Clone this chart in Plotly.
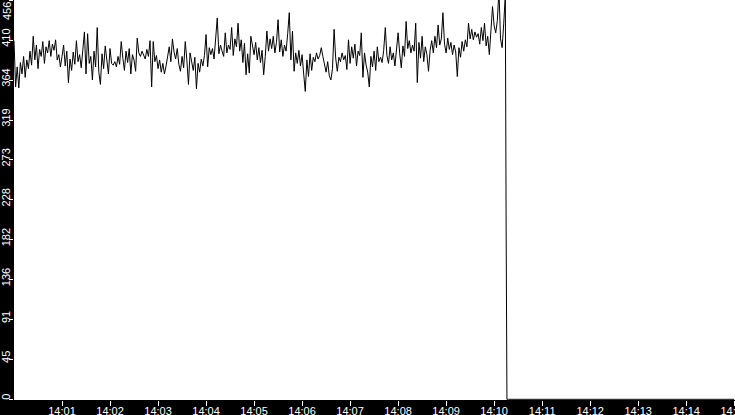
import pandas as pd
import plotly.graph_objects as go

load_values = [
    410, 357, 380, 356, 385, 372, 392, 368, 388, 378,
    398, 382, 415, 388, 405, 378, 400, 392, 409, 384,
    403, 396, 410, 392, 406, 399, 411, 388, 394, 380,
    392, 405, 381, 398, 362, 389, 376, 397, 383, 410,
    386, 394, 379, 401, 420, 372, 418, 384, 392, 365,
    398, 380, 425, 374, 360, 395, 378, 404, 386, 372,
    401, 384, 382, 386, 380, 392, 383, 409, 390, 376,
    398, 385, 401, 372, 394, 388, 375, 413, 396, 392,
    398, 394, 389, 400, 392, 410, 357, 409, 386, 393,
    378, 388, 374, 384, 372, 381, 390, 403, 386, 412,
    397, 389, 401, 383, 375, 392, 379, 409, 388, 360,
    396, 384, 376, 391, 355, 384, 374, 389, 381, 393,
    417, 380, 402, 394, 401, 389, 409, 436, 395, 405,
    398, 392, 419, 396, 405, 400, 425, 393, 412, 403,
    430, 398, 411, 385, 407, 371, 395, 373, 415, 402,
    394, 408, 388, 402, 385, 399, 371, 392, 421, 398,
    412, 401, 415, 396, 408, 434, 397, 411, 392, 405,
    398, 418, 442, 388, 421, 375, 396, 384, 399, 381,
    394, 372, 352, 388, 369, 395, 376, 391, 386, 396,
    389, 393, 402, 392, 383, 374, 386, 370, 365, 378,
    423, 390, 375, 391, 386, 396, 388, 393, 377, 411,
    384, 403, 390, 406, 381, 398, 393, 419, 368, 396,
    382, 374, 357, 392, 380, 398, 376, 403, 386, 391,
    385, 399, 425, 393, 384, 403, 388, 396, 381, 400,
    419, 395, 379, 404, 392, 432, 401, 410, 396, 405,
    398, 430, 362, 408, 390, 415, 386, 403, 394, 375,
    399, 410, 396, 415, 402, 428, 405, 412, 442, 406,
    396, 413, 400, 408, 394, 405, 397, 369, 402, 391,
    409, 398, 411, 403, 430, 412, 423, 411, 420, 414,
    418, 406, 425, 410, 430, 404, 415, 394, 421, 449,
    427, 419, 433, 468, 412, 402, 430, 462,
]
# the drop: one half-way sample, then flat zero to the end
drop_time = "2024-01-01 14:10:15"
drop_value = 196
zero_start = "2024-01-01 14:10:16"
zero_end = "2024-01-01 14:15:00"

y_max = 456
y_ticks = [0, 45.6, 91.2, 136.8, 182.4, 228, 273.6, 319.2, 364.8, 410.4]
y_tick_text = ["0", "45", "91", "136", "182", "228", "273", "319", "364", "410"]

x_ticks = ["14:%02d" % m for m in range(1, 16)]

main_times = pd.date_range("2024-01-01 14:00:00", periods=len(load_values), freq="2s")
zero_times = pd.date_range(zero_start, zero_end, freq="2s")

times = list(main_times) + [pd.Timestamp(drop_time)] + list(zero_times)
values = load_values + [drop_value] + [0] * len(zero_times)

fig = go.Figure()
fig.add_trace(go.Scatter(
    x=times,
    y=values,
    mode="lines",
    line=dict(color="black", width=1),
    hoverinfo="skip",
    showlegend=False,
))

font = dict(family="Liberation Sans, Arial, sans-serif", size=11, color="white")

fig.update_layout(
    width=735,
    height=415,
    margin=dict(l=14, r=0, t=0, b=15, pad=0),
    paper_bgcolor="black",
    plot_bgcolor="white",
    font=font,
    xaxis=dict(
        range=["2024-01-01 14:00:00", "2024-01-01 14:15:01"],
        tickvals=["2024-01-01 " + t + ":00" for t in x_ticks],
        ticktext=x_ticks,
        ticks="outside",
        ticklen=5,
        tickwidth=1,
        tickcolor="white",
        ticklabelstandoff=-4,
        ticklabeloverflow="allow",
        showgrid=False,
        zeroline=False,
        showline=False,
        automargin=False,
        tickfont=font,
    ),
    yaxis=dict(
        range=[-0.8, 456.5],
        tickvals=y_ticks + [y_max],
        ticktext=y_tick_text + [""],
        tickangle=-90,
        ticks="outside",
        ticklen=4,
        tickwidth=1,
        tickcolor="white",
        ticklabelstandoff=-5,
        ticklabelshift=-1,
        showgrid=False,
        zeroline=False,
        showline=False,
        automargin=False,
        tickfont=font,
    ),
    # top label sits below its tick so it stays on the page
    annotations=[dict(
        text=str(y_max),
        x=0, xref="paper", xanchor="right", xshift=1,
        y=1, yref="paper", yanchor="top",
        textangle=-90,
        showarrow=False,
        font=font,
    )],
)

# page has a default 8px body margin; drop it so the chart fills the window
fig.write_html(
    "out.html",
    config={"displayModeBar": False},
    post_script="document.body.style.margin = '0'; document.body.style.background = 'black';",
)
